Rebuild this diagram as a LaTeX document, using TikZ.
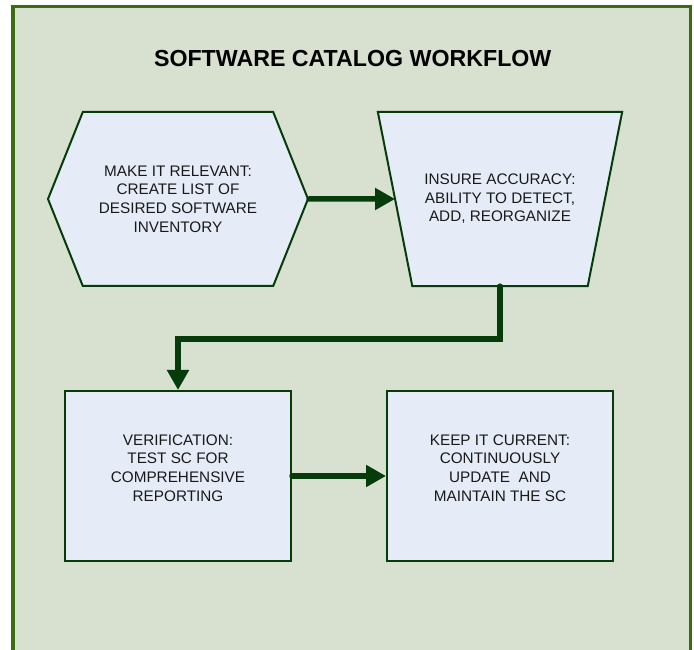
\documentclass[tikz,border=0pt]{standalone}
\usepackage{fontspec}
\setmainfont{Liberation Sans}
\usetikzlibrary{shapes.geometric,shapes.symbols,arrows.meta}

\definecolor{framegreen}{RGB}{60,108,18}
\definecolor{panelbg}{RGB}{216,224,208}
\definecolor{boxfill}{RGB}{230,236,247}
\definecolor{flowgreen}{RGB}{5,60,10}

\tikzstyle{boxtext} = [text=black!90, align=center, font=\fontsize{15.3}{18.6}\selectfont]
\tikzstyle{hexbox} = [boxtext, draw=flowgreen, line width=2pt, fill=boxfill, signal, signal to=west and east, signal pointer angle=136.4, minimum width=260pt, minimum height=174pt]
\tikzstyle{trapbox} = [boxtext, rectangle, minimum width=244pt, minimum height=174pt]
\tikzstyle{trapline} = [draw=flowgreen, line width=2pt, fill=boxfill, line join=miter]
\tikzstyle{stepbox} = [draw=flowgreen, line width=2pt, fill=boxfill, rectangle, minimum width=226pt, minimum height=170pt]
\tikzstyle{flow} = [draw=flowgreen, line width=5.5pt, line cap=round]

\begin{document}
\begin{tikzpicture}[x=1pt, y=1pt, node distance=322pt, >={Triangle[length=20pt,width=21pt]}]

    % The frame around the whole workflow
    \useasboundingbox (0,0) rectangle (694,649);
    \clip (0,0) rectangle (694,649);
    \draw [draw=framegreen, fill=panelbg, line width=3.5pt] (13,-20) rectangle (690.7,642.5);

    \node [font=\fontsize{23.2}{27}\selectfont\bfseries] (title) at (352.7,590) {SOFTWARE CATALOG WORKFLOW};

    % We start by placing the blocks
    \node [hexbox] (relevant) at (178,450) {MAKE IT RELEVANT:\\CREATE LIST OF\\DESIRED SOFTWARE\\INVENTORY};
    \node [trapbox, right of=relevant] (accuracy) {};
    \draw [trapline] (accuracy.north west) -- (accuracy.north east)
        -- ([xshift=-34.5pt]accuracy.south east) -- ([xshift=34.5pt]accuracy.south west) -- cycle;
    \node [boxtext] (accuracy text) at (accuracy) {INSURE ACCURACY:\\ABILITY TO DETECT,\\ADD, REORGANIZE};
    \node [stepbox, below of=relevant, node distance=277pt,
           label={[boxtext, yshift=8pt]center:{VERIFICATION:\\TEST SC FOR\\COMPREHENSIVE\\REPORTING}}] (verif) {};
    \node [stepbox, right of=verif,
           label={[boxtext, yshift=8pt]center:{KEEP IT CURRENT:\\CONTINUOUSLY\\UPDATE~~AND\\MAINTAIN THE SC}}] (current) {};

    \draw [flow,->] (relevant) -- ([xshift=17.25pt]accuracy.west);
    \draw [flow,->] (accuracy.south) -- ++(0,-53) -| (verif.north);
    \draw [flow,->] (verif) -- (current);

\end{tikzpicture}
\end{document}
